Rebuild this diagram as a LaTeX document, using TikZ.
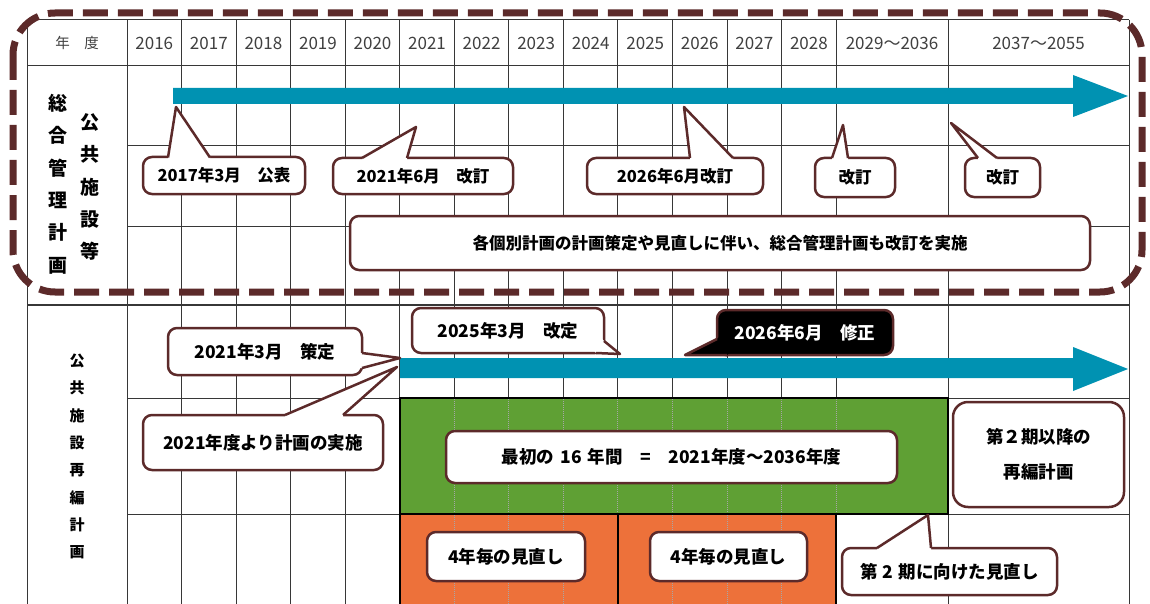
\documentclass[tikz,border=0pt]{standalone}
\usepackage{fontspec}
\setmainfont{Noto Sans CJK JP}
\usepackage{tikz}
\usetikzlibrary{calc,positioning}
\definecolor{frm}{RGB}{92,42,42}
\definecolor{arw}{RGB}{0,146,178}
\definecolor{grn}{RGB}{95,160,52}
\definecolor{org}{RGB}{237,113,58}
\definecolor{grd}{RGB}{55,55,55}
\definecolor{hdr}{RGB}{64,64,64}
\newcommand{\callptr}[5][white]{%
  \fill[#1] ($#2+#5$) -- #2 -- #4 -- #3 -- ($#3+#5$) -- cycle;
  \draw[ptrln] #2 -- #4 -- #3;}

\begin{document}
\begin{tikzpicture}[x=1pt,y=-1pt,
  gridln/.style={grd,line width=1},
  blkln/.style={black,line width=1.6},
  dotln/.style={black!35,line width=1,densely dotted},
  dashframe/.style={frm,line width=7,dash pattern=on 25pt off 10pt,rounded corners=42},
  yr/.style={text=hdr,font=\fontsize{17}{20}\selectfont},
  lab/.style={align=center,font=\fontsize{19}{32.4}\selectfont\bfseries},
  cbox/.style={draw=frm,line width=2.5,fill=white,rounded corners=9,inner sep=0pt,text=black},
  cb1/.style={cbox,font=\fontsize{16.5}{20}\selectfont\bfseries},
  cb2/.style={cbox,font=\fontsize{17.5}{21}\selectfont\bfseries},
  ptrln/.style={frm,line width=2.5,line join=round}]
  \useasboundingbox (0,0) rectangle (1150,604);
  \fill[white] (0,0) rectangle (1150,604);
  % table grid
  \foreach \k in {0,...,5} \draw[gridln] ({127+54.55*\k},20) -- ({127+54.55*\k},604);
  \foreach \k in {6,...,13} \draw[gridln] ({127+54.55*\k},20) -- ({127+54.55*\k},398);
  \draw[gridln] (27,20) -- (27,604); \draw[gridln] (948,20) -- (948,604); \draw[gridln] (1129,20) -- (1129,604);
  \draw[gridln] (27,20) -- (1129,20); \draw[gridln] (27,66) -- (1129,66);
  \foreach \y in {146,226,398,514} \draw[gridln] (127,\y) -- (1129,\y);
  \draw[gridln,line width=2] (27,305) -- (1129,305);
  % plan periods
  \draw[blkln,fill=grn] (399.7,398) rectangle (948,514);
  \draw[blkln,fill=org] (399.7,514) rectangle (618,608);
  \draw[blkln,fill=org] (618,514) rectangle (836.2,608);
  \foreach \k in {6,...,13} \draw[dotln] ({127+54.55*\k},399) -- ({127+54.55*\k},513);
  \foreach \k in {6,7,8,10,11,12} \draw[dotln] ({127+54.55*\k},515) -- ({127+54.55*\k},604);
  % header
  \node[yr,font=\fontsize{14.5}{18}\selectfont] (nendo) at (77,43) {年　度};
  \foreach \y [count=\i from 0] in {2016,...,2028} \node[yr] (y\y) at ({154.3+54.55*\i},43) {\y};
  \node[yr] (y2029) at (892,43) {2029～2036};
  \node[yr] (y2037) at (1038.5,43) {2037～2055};
  % row labels
  \node[lab] (sogo) at (58,184) {総\\合\\管\\理\\計\\画};
  \node[lab] (kokyo) at (90,187) {公\\共\\施\\設\\等};
  \node[lab,font=\fontsize{15}{27.3}\selectfont\bfseries] (saihen) at (77,456.5) {公\\共\\施\\設\\再\\編\\計\\画};
  % arrows
  \fill[arw] (173,88) -- (1073,88) -- (1073,75) -- (1128,96) -- (1073,117) -- (1073,104) -- (173,104) -- cycle;
  \fill[arw] (400,358) -- (1073,358) -- (1073,347) -- (1128,369) -- (1073,391) -- (1073,378) -- (400,378) -- cycle;
  % dashed frame
  \draw[dashframe] (13,13) rectangle (1142,292);
  % callouts, upper part
  \node[cb1,minimum width=162,minimum height=37] (k2017) at (224,175.5) {2017年3月　公表};
  \node[cb1,minimum width=180,minimum height=36] (k2021) at (423,176) {2021年6月　改訂};
  \node[cb1,minimum width=176,minimum height=36] (k2026) at (675,176) {2026年6月改訂};
  \node[cb1,minimum width=80,minimum height=39] (kaiA) at (855,177.5) {改訂};
  \node[cb1,minimum width=75,minimum height=39] (kaiB) at (1002.5,177.5) {改訂};
  \node[cb1,minimum width=740,minimum height=54] (kall) at (720,243) {各個別計画の計画策定や見直しに伴い、総合管理計画も改訂を実施};
  \coordinate (t2017) at (176,107); \coordinate (t2021) at (416,127); \coordinate (t2026) at (684,107);
  \coordinate (tkaiA) at (843,125); \coordinate (tkaiB) at (951,123);
  \callptr{(168,157.5)}{(210,157.5)}{(t2017)}{(0,4)}
  \callptr{(362,158)}{(407,158)}{(t2021)}{(0,4)}
  \callptr{(690,158)}{(733,158)}{(t2026)}{(0,4)}
  \callptr{(832,158)}{(848,158)}{(tkaiA)}{(0,4)}
  \callptr{(978,158)}{(997,158)}{(tkaiB)}{(0,4)}
  % callouts, lower part
  \node[cb2,minimum width=194,minimum height=47] (s2021) at (265,351.5) {2021年3月　策定};
  \node[cb2,minimum width=240,minimum height=55] (j2021) at (263,442.5) {2021年度より計画の実施};
  \node[cb2,minimum width=192,minimum height=45] (s2025) at (508,330.5) {2025年3月　改定};
  \node[cb2,fill=black,text=white,minimum width=176,minimum height=45] (s2026) at (805,332.5) {2026年6月　修正};
  \node[cb2,minimum width=451,minimum height=52] (p16) at (671.5,457) {最初の\hspace{0.35em}16\hspace{0.35em}年間　=　2021年度～2036年度};
  \node[cb2,align=center,rounded corners=15,minimum width=171,minimum height=105,font=\fontsize{17.5}{35}\selectfont\bfseries] (p2nd) at (1038.5,454.5) {第２期以降の\\再編計画};
  \node[cb2,minimum width=158,minimum height=49] (rev1) at (506,556.5) {4年毎の見直し};
  \node[cb2,minimum width=157,minimum height=49] (rev2) at (728.5,556.5) {4年毎の見直し};
  \node[cb2,minimum width=215,minimum height=47] (rev3) at (949.5,571.5) {第\hspace{0.3em}2\hspace{0.3em}期に向けた見直し};
  \coordinate (ts2021) at (400,358); \coordinate (tj2021) at (397,367); \coordinate (ts2025) at (620,354);
  \coordinate (ts2026) at (685,355); \coordinate (trev3) at (928,515);
  \callptr{(362,353)}{(362,368)}{(ts2021)}{(-4,0)}
  \callptr{(285,415)}{(343,415)}{(tj2021)}{(0,4)}
  \callptr{(604,341)}{(596,353)}{(ts2025)}{(-4,-4)}
  \callptr[black]{(717,339)}{(727,355)}{(ts2026)}{(4,-4)}
  \callptr{(877,548)}{(931,548)}{(trev3)}{(0,4)}
\end{tikzpicture}
\end{document}
